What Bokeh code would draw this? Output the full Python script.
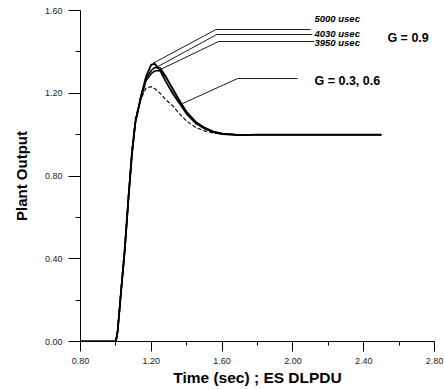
from bokeh.plotting import figure
from bokeh.models import FixedTicker, PrintfTickFormatter, Label
from bokeh.embed import file_html
from bokeh.resources import INLINE

# time axis (sec)
t = [0.80, 1.00, 1.01, 1.03, 1.05, 1.07, 1.09, 1.11, 1.14, 1.17, 1.20, 1.22, 1.25,
     1.28, 1.32, 1.36, 1.40, 1.45, 1.50, 1.55, 1.60, 1.70, 1.80, 2.00, 2.20, 2.50]
# G = 0.9 curves
g09_5000 = [0, 0, 0.05, 0.25, 0.44, 0.68, 0.90, 1.06, 1.18, 1.28, 1.338, 1.342, 1.31,
            1.26, 1.20, 1.15, 1.10, 1.055, 1.03, 1.012, 1.003, 0.998, 1.0, 1.0, 1.0, 1.0]
g09_4030 = [0, 0, 0.05, 0.25, 0.44, 0.68, 0.90, 1.06, 1.18, 1.27, 1.31, 1.325, 1.322,
            1.285, 1.22, 1.16, 1.105, 1.06, 1.032, 1.014, 1.004, 0.998, 1.0, 1.0, 1.0, 1.0]
g09_3950 = [0, 0, 0.05, 0.25, 0.44, 0.68, 0.90, 1.06, 1.17, 1.26, 1.295, 1.308, 1.31,
            1.28, 1.225, 1.165, 1.11, 1.063, 1.035, 1.015, 1.005, 0.998, 1.0, 1.0, 1.0, 1.0]
# G = 0.3, 0.6 curve
g0306 = [0, 0, 0.06, 0.27, 0.47, 0.71, 0.93, 1.08, 1.17, 1.225, 1.232, 1.222, 1.20,
         1.17, 1.14, 1.10, 1.065, 1.035, 1.018, 1.008, 1.002, 0.998, 1.0, 1.0, 1.0, 1.0]

# annotation leader lines (data units)
lead_5000_x = [1.21, 1.565, 2.10]
lead_5000_y = [1.345, 1.508, 1.508]
lead_4030_x = [1.235, 1.57, 2.11]
lead_4030_y = [1.328, 1.484, 1.484]
lead_3950_x = [1.245, 1.58, 2.12]
lead_3950_y = [1.312, 1.450, 1.450]
lead_g36_x = [1.376, 1.687, 2.026]
lead_g36_y = [1.150, 1.271, 1.271]

x_ticks = [0.8, 1.2, 1.6, 2.0, 2.4, 2.8]
x_minor = [1.0, 1.4, 1.8, 2.2, 2.6]
y_ticks = [0.0, 0.4, 0.8, 1.2, 1.6]
y_minor = [0.2, 0.6, 1.0, 1.4]

p = figure(width=444, height=389, output_backend="svg", toolbar_location=None,
           x_range=(0.8, 2.8), y_range=(0.0, 1.6),
           min_border_left=80, min_border_right=10, min_border_top=10, min_border_bottom=48)
p.outline_line_color = None
p.grid.visible = False
p.background_fill_color = "white"
p.border_fill_color = "white"

for ys, lw in [(g09_5000, 1.8), (g09_4030, 1.5), (g09_3950, 1.5)]:
    p.line(t, ys, line_color="black", line_width=lw)
p.line(t, g0306, line_color="black", line_width=1.1, line_dash="4 2")

for lx, ly in [(lead_5000_x, lead_5000_y), (lead_4030_x, lead_4030_y),
               (lead_3950_x, lead_3950_y), (lead_g36_x, lead_g36_y)]:
    p.line(lx, ly, line_color="black", line_width=0.9)

lab_font = "Liberation Sans"
for txt, yy in [("5000 usec", 1.561), ("4030 usec", 1.489), ("3950 usec", 1.443)]:
    p.add_layout(Label(x=2.122, y=yy, text=txt, text_font=lab_font, text_font_size="9.5px",
                       text_font_style="bold italic", text_baseline="middle", text_color="black"))
p.add_layout(Label(x=2.534, y=1.469, text="G = 0.9", text_font=lab_font, text_font_size="12.5px",
                   text_font_style="bold", text_baseline="middle", text_color="black"))
p.add_layout(Label(x=2.122, y=1.261, text="G = 0.3, 0.6", text_font=lab_font, text_font_size="12.5px",
                   text_font_style="bold", text_baseline="middle", text_color="black"))

xa = p.xaxis[0]
xa.ticker = FixedTicker(ticks=x_ticks, minor_ticks=x_minor)
xa.formatter = PrintfTickFormatter(format="%.2f")
xa.axis_label = "Time (sec) ; ES DLPDU"
xa.axis_label_text_font = lab_font
xa.axis_label_text_font_size = "15.5px"
xa.axis_label_text_font_style = "bold"
xa.axis_label_text_color = "black"
xa.axis_label_standoff = 2
xa.major_label_text_font = lab_font
xa.major_label_text_font_size = "9px"
xa.major_label_text_color = "#222222"
xa.major_label_standoff = 6
xa.major_tick_out = 10
xa.major_tick_in = 0
xa.minor_tick_out = 4
xa.minor_tick_in = 0
xa.axis_line_color = "black"
xa.major_tick_line_color = "black"
xa.minor_tick_line_color = "black"

ya = p.yaxis[0]
ya.ticker = FixedTicker(ticks=y_ticks, minor_ticks=y_minor)
ya.formatter = PrintfTickFormatter(format="%.2f")
ya.axis_label = "Plant Output"
ya.axis_label_text_font = lab_font
ya.axis_label_text_font_size = "15px"
ya.axis_label_text_font_style = "bold"
ya.axis_label_text_color = "black"
ya.axis_label_standoff = 12
ya.major_label_text_font = lab_font
ya.major_label_text_font_size = "9px"
ya.major_label_text_color = "#222222"
ya.major_label_standoff = 6
ya.major_tick_out = 12
ya.major_tick_in = 0
ya.minor_tick_out = 5
ya.minor_tick_in = 0
ya.axis_line_color = "black"
ya.major_tick_line_color = "black"
ya.minor_tick_line_color = "black"

open("out.html", "w").write(file_html(p, INLINE))
